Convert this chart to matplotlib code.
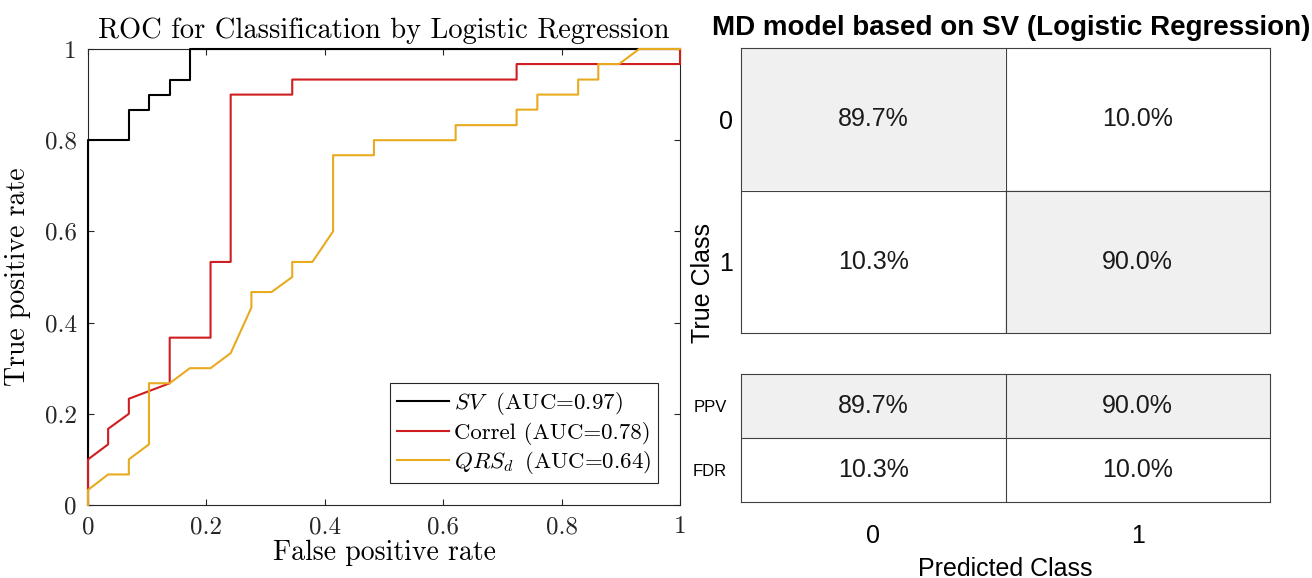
import numpy as np
import matplotlib
matplotlib.use("Agg")
import matplotlib.pyplot as plt
from matplotlib.colors import ListedColormap
from matplotlib.ticker import FormatStrFormatter

# ROC curves (false positive rate, true positive rate)
sv_fpr = [0, 0, 0.069, 0.069, 0.103, 0.103, 0.138, 0.138, 0.172, 0.172, 1.0]
sv_tpr = [0, 0.8, 0.8, 0.867, 0.867, 0.9, 0.9, 0.933, 0.933, 1.0, 1.0]

correl_fpr = [0, 0, 0.034, 0.034, 0.069, 0.069, 0.138, 0.138, 0.207, 0.207,
              0.241, 0.241, 0.345, 0.345, 0.724, 0.724, 1.0, 1.0]
correl_tpr = [0, 0.1, 0.133, 0.167, 0.2, 0.233, 0.267, 0.367, 0.367, 0.533,
              0.533, 0.9, 0.9, 0.933, 0.933, 0.967, 0.967, 1.0]

qrs_fpr = [0, 0, 0.034, 0.069, 0.069, 0.103, 0.103, 0.138, 0.172, 0.207,
           0.241, 0.276, 0.276, 0.310, 0.345, 0.345, 0.379, 0.414, 0.414,
           0.483, 0.483, 0.621, 0.621, 0.724, 0.724, 0.759, 0.759, 0.828,
           0.828, 0.862, 0.862, 0.897, 0.931, 1.0]
qrs_tpr = [0, 0.033, 0.067, 0.067, 0.1, 0.133, 0.267, 0.267, 0.3, 0.3,
           0.333, 0.433, 0.467, 0.467, 0.5, 0.533, 0.533, 0.6, 0.767,
           0.767, 0.8, 0.8, 0.833, 0.833, 0.867, 0.867, 0.9, 0.9,
           0.933, 0.933, 0.967, 0.967, 1.0, 1.0]

labels = [r"$SV\ $ (AUC=0.97)", "Correl (AUC=0.78)", r"$QRS_d\,$ (AUC=0.64)"]
colors = ["black", "#cf1d20", "#e8aa1e"]

# confusion chart (percent)
classes = ["0", "1"]
cm_vals = [[89.7, 10.0],
           [10.3, 90.0]]
prec_rows = ["PPV", "FDR"]
prec_vals = [[89.7, 90.0],
             [10.3, 10.0]]

plt.rcParams.update({
    "font.family": "serif",
    "font.serif": ["cmr10"],
    "mathtext.fontset": "cm",
    "axes.unicode_minus": False,
})

W, H = 1312, 578
fig = plt.figure(figsize=(W / 100, H / 100), dpi=100)

# ---- ROC ----
ax = fig.add_axes([88 / W, 1 - 505 / H, 592 / W, 456 / H])
for fx, ty, c, lab in zip([sv_fpr, correl_fpr, qrs_fpr],
                          [sv_tpr, correl_tpr, qrs_tpr], colors, labels):
    ax.plot(fx, ty, color=c, lw=1.5, label=lab, clip_on=False, zorder=3)

ax.set_xlim(0, 1)
ax.set_ylim(0, 1)
ax.set_xticks(np.arange(0, 1.01, 0.2))
ax.set_yticks(np.arange(0, 1.01, 0.2))
ax.xaxis.set_major_formatter(FormatStrFormatter("%g"))
ax.yaxis.set_major_formatter(FormatStrFormatter("%g"))
ax.tick_params(direction="in", top=True, right=True, length=4, width=0.8,
               labelsize=18, colors="#262626", pad=8)
for s in ax.spines.values():
    s.set_color("#262626")
    s.set_linewidth(0.8)
ax.set_xlabel("False positive rate", fontsize=20, labelpad=1)
ax.set_ylabel("True positive rate", fontsize=20, labelpad=10)
ax.set_title("ROC for Classification by Logistic Regression", fontsize=20.5, pad=8)
leg = ax.legend(loc="lower right", fontsize=16.5, handlelength=2.3,
                handletextpad=0.2, labelspacing=0.2, borderaxespad=0.95,
                fancybox=False, framealpha=1, borderpad=0.3)
leg.get_frame().set_edgecolor("#262626")
leg.get_frame().set_linewidth(0.8)

# ---- confusion chart ----
sans = "Liberation Sans"
cell_cmap = ListedColormap(["white", "#f0f0f0"])
grid_col = "#404040"


def draw_table(a, vals):
    vals = np.array(vals)
    a.imshow((vals > 50).astype(int), cmap=cell_cmap, vmin=0, vmax=1,
             aspect="auto", interpolation="nearest")
    for i in range(vals.shape[0]):
        for j in range(vals.shape[1]):
            a.text(j, i, f"{vals[i, j]:.1f}%", ha="center", va="center",
                   fontsize=18, family=sans, color="#1a1a1a")
    a.axhline(0.5, color=grid_col, lw=0.8)
    a.axvline(0.5, color=grid_col, lw=0.8)
    for s in a.spines.values():
        s.set_color(grid_col)
        s.set_linewidth(0.8)
    a.tick_params(length=0)


ax_cm = fig.add_axes([741 / W, 1 - 333 / H, 529 / W, 285 / H])
draw_table(ax_cm, cm_vals)
ax_cm.set_xticks([])
ax_cm.set_yticks(range(len(classes)))
ax_cm.set_yticklabels(classes, family=sans, fontsize=18)
ax_cm.tick_params(axis="y", pad=6)

ax_pr = fig.add_axes([741 / W, 1 - 502 / H, 529 / W, 128 / H])
draw_table(ax_pr, prec_vals)
ax_pr.set_yticks(range(len(prec_rows)))
ax_pr.set_yticklabels(prec_rows, family=sans, fontsize=12)
ax_pr.tick_params(axis="y", pad=10)
ax_pr.set_xticks(range(len(classes)))
ax_pr.set_xticklabels(classes, family=sans, fontsize=18)
ax_pr.tick_params(axis="x", pad=16)
ax_pr.set_xlabel("Predicted Class", family=sans, fontsize=18, labelpad=6)

fig.text(703 / W, 1 - 283 / H, "True Class", rotation=90, ha="center",
         va="center", family=sans, fontsize=18)
fig.text(1011 / W, 1 - 28 / H, "MD model based on SV (Logistic Regression)",
         ha="center", va="center", family=sans, fontsize=20, weight="bold")

fig.savefig("out.png", dpi=100)
